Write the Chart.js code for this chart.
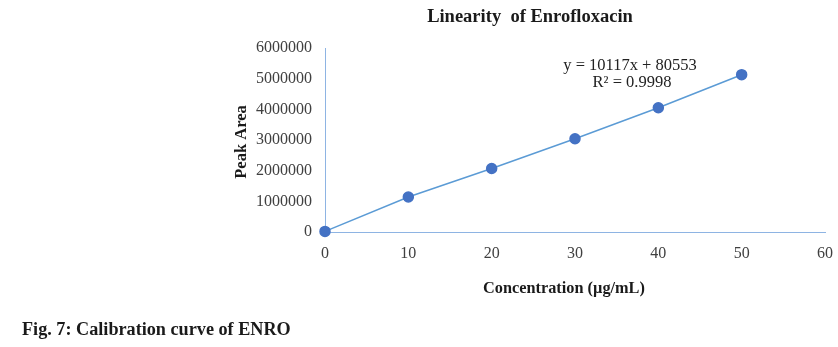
<!DOCTYPE html>
<html lang="en">
  <head>
    <meta charset="UTF-8" />
    <title>Linearity of Enrofloxacin</title>
    <script src="https://cdn.jsdelivr.net/npm/chart.js"></script>
    <style>
      html, body { margin: 0; padding: 0; background: #fff; }
      #wrap { width: 838px; height: 347px; }
    </style>
  </head>
  <body>
    <div id="wrap"><canvas id="kurva" width="838" height="347"></canvas></div>

    <script>
      // Konsentrasi (µg/mL) dan luas puncak
      const konsentrasi = [0, 10, 20, 30, 40, 50];
      const luasPuncak = [20000, 1140000, 2070000, 3040000, 4050000, 5130000];

      const xTicks = [0, 10, 20, 30, 40, 50, 60];
      const yTicks = [0, 1000000, 2000000, 3000000, 4000000, 5000000, 6000000];

      const persamaan = "y = 10117x + 80553";
      const rKuadrat = "R² = 0.9998";

      const judul = "Linearity  of Enrofloxacin";
      const judulX = "Concentration (µg/mL)";
      const judulY = "Peak Area";
      const keterangan = "Fig. 7: Calibration curve of ENRO";

      const serif = "'Liberation Serif', 'Times New Roman', serif";

      // Semua teks di luar sumbu digambar manual
      const teksPlugin = {
        id: "teks",
        afterDraw(chart) {
          const ctx = chart.ctx;
          ctx.save();
          ctx.fillStyle = "#1a1a1a";
          ctx.textBaseline = "middle";

          ctx.font = "bold 18.5px " + serif;
          ctx.textAlign = "center";
          ctx.fillText(judul, 530, 17);

          ctx.font = "bold 16.3px " + serif;
          ctx.fillText(judulX, 564, 289);

          ctx.save();
          ctx.translate(242, 142);
          ctx.rotate(-Math.PI / 2);
          ctx.font = "bold 16.5px " + serif;
          ctx.fillText(judulY, 0, 0);
          ctx.restore();

          ctx.font = "16.5px " + serif;
          ctx.fillStyle = "#222";
          ctx.fillText(persamaan, 630, 66);
          ctx.fillText(rKuadrat, 632, 83);

          ctx.font = "bold 18.2px " + serif;
          ctx.fillStyle = "#1a1a1a";
          ctx.textAlign = "left";
          ctx.fillText(keterangan, 22, 330);
          ctx.restore();
        },
      };

      new Chart(document.getElementById("kurva"), {
        type: "scatter",
        data: {
          datasets: [
            {
              data: konsentrasi.map((x, i) => ({ x: x, y: luasPuncak[i] })),
              showLine: true,
              clip: false,
              borderColor: "#5B9BD5",
              borderWidth: 1.5,
              backgroundColor: "#4472C4",
              pointBackgroundColor: "#4472C4",
              pointBorderColor: "#4472C4",
              pointRadius: 5,
              tension: 0,
            },
          ],
        },
        options: {
          responsive: false,
          animation: false,
          layout: { padding: { top: 48, right: 13, left: 0, bottom: 0 } },
          plugins: {
            legend: { display: false },
            tooltip: { enabled: false },
            title: { display: false },
          },
          scales: {
            x: {
              type: "linear",
              min: 0,
              max: 60,
              afterBuildTicks: (s) => { s.ticks = xTicks.map((v) => ({ value: v })); },
              afterFit: (s) => {
                s.height = 115;
                s.paddingLeft = 0;
                s.paddingRight = 0;
              },
              grid: { display: false, drawTicks: false },
              border: { display: true, color: "#8EB4E3", width: 1 },
              ticks: {
                padding: 12,
                color: "#404040",
                font: { family: serif, size: 16 },
              },
            },
            y: {
              type: "linear",
              min: 0,
              max: 6000000,
              afterBuildTicks: (s) => { s.ticks = yTicks.map((v) => ({ value: v })); },
              afterFit: (s) => { s.width = 325; },
              grid: { display: false, drawTicks: false },
              border: { display: true, color: "#8EB4E3", width: 1 },
              ticks: {
                padding: 13,
                color: "#404040",
                font: { family: serif, size: 16 },
                callback: (v) => String(v),
              },
            },
          },
        },
        plugins: [teksPlugin],
      });
    </script>
  </body>
</html>
